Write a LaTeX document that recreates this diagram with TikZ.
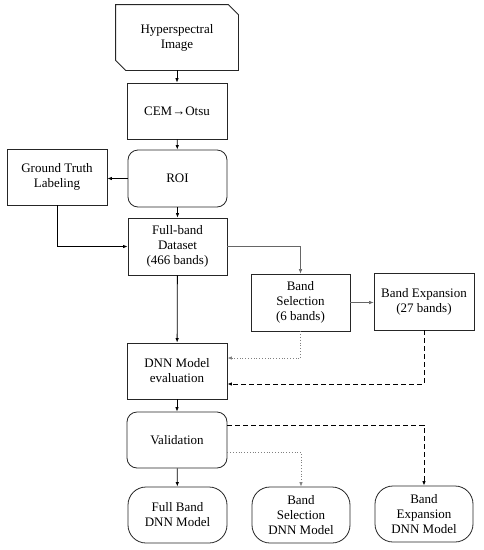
\documentclass[tikz,border=0pt]{standalone}
\usepackage{fontspec}
\setmainfont{Liberation Serif}
\usetikzlibrary{arrows.meta}
\begin{document}
\begin{tikzpicture}[x=1pt,y=-1pt,
  box/.style={draw=black!85, line width=0.8pt, minimum width=100pt, minimum height=56pt, align=center, inner sep=0pt, font=\fontsize{13}{15}\selectfont},
  rbox/.style={box, rounded corners=10pt},
  tbox/.style={box, rounded corners=18pt},
  arr/.style={-{Latex[length=4.5pt,width=3.5pt]}, line width=0.8pt, black},
  garr/.style={-{Latex[length=4.5pt,width=3.5pt]}, line width=0.6pt, black!60},
  dotarr/.style={-{Latex[length=4.5pt,width=3.5pt]}, line width=0.8pt, black!50, dotted},
  dasharr/.style={-{Latex[length=4.5pt,width=3.5pt]}, line width=0.9pt, black, dash pattern=on 5pt off 3pt}]
\useasboundingbox (0,0) rectangle (484,550);
% Hyperspectral image (chamfered)
\node[box, draw=none, minimum width=122pt, minimum height=65pt] (hyp) at (177,37.5) {Hyperspectral\\Image};
\draw[black!85, line width=0.8pt] (hyp.north west) -- ([xshift=-10pt]hyp.north east) -- ([yshift=-10pt]hyp.north east) -- (hyp.south east) -- ([xshift=10pt]hyp.south west) -- ([yshift=10pt]hyp.south west) -- cycle;
\node[box] (cem) at (177,111) {CEM→Otsu};
\node[rbox, minimum width=99pt, minimum height=57pt] (roi) at (177.5,178.5) {ROI};
\node[box] (gt) at (57,177) {Ground Truth\\Labeling};
\node[box, minimum width=99pt, minimum height=57pt] (fb) at (177.5,246.5) {Full-band\\Dataset\\(466 bands)};
\node[box, minimum width=99pt, minimum height=57pt] (bs) at (300.5,302.5) {Band\\Selection\\(6 bands)};
\node[box, minimum height=57pt] (be) at (424,301.5) {Band Expansion\\(27 bands)};
\node[box] (dnn) at (177,371) {DNN Model\\evaluation};
\node[rbox] (val) at (177,440) {Validation};
\node[tbox, minimum width=99pt] (fbd) at (177.5,515) {Full Band\\DNN Model};
\node[tbox, minimum width=98pt] (bsd) at (301,515) {Band\\Selection\\DNN Model};
\node[tbox, minimum width=98pt] (bed) at (424,514) {Band\\Expansion\\DNN Model};
% connectors
\draw[arr] (hyp) -- (cem);
\draw[arr] (cem) -- (roi);
\draw[arr] (roi.west) -- (gt.east |- roi.west);
\draw[arr] (gt.south) |- (fb.west);
\draw[arr] (roi) -- (fb);
\draw[garr] (fb.east) -| (bs.north);
\draw[garr] (bs.east) -- (be.west |- bs.east);
\draw[arr] (fb) -- (dnn);
\draw[dotarr] (bs.south) |- ([yshift=13pt]dnn.east);
\draw[dasharr] (be.south) |- ([yshift=-13pt]dnn.east);
\draw[arr] (dnn) -- (val);
\draw[arr] (val) -- (fbd);
\draw[dasharr] ([yshift=15pt]val.east) -| (bed.north);
\draw[dotarr] ([yshift=-12pt]val.east) -| (bsd.north);
\end{tikzpicture}
\end{document}
